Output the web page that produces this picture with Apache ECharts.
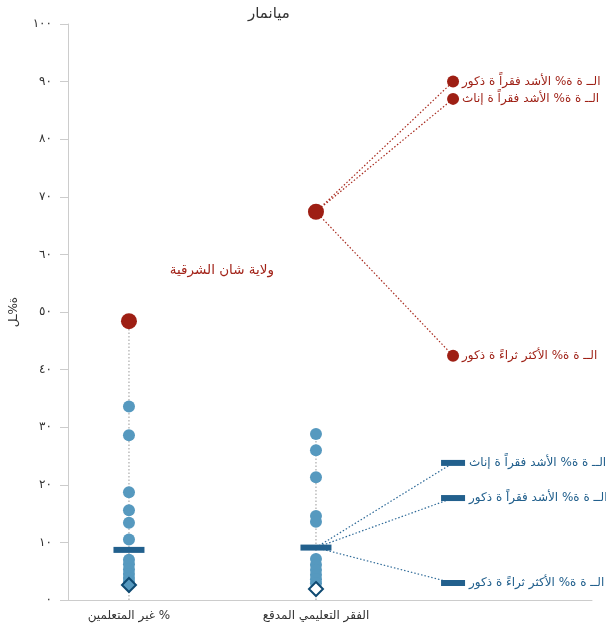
<!DOCTYPE html>
<html>
<head>
<meta charset="utf-8">
<script src="https://cdn.jsdelivr.net/npm/echarts@6/dist/echarts.min.js"></script>
<style>
  html, body { margin: 0; padding: 0; background: #fff; }
  #chart { width: 606px; height: 629px; }
</style>
</head>
<body>
<div id="chart" dir="rtl"></div>
<script>
// categories and y tick labels
const categories = ['% غير المتعلمين', 'الفقر التعليمي المدقع'];
const yTickLabels = ['٠', '١٠', '٢٠', '٣٠', '٤٠', '٥٠', '٦٠', '٧٠', '٨٠', '٩٠', '١٠٠'];
const chartTitle = 'ميانمار';
const yName = 'ة%ـل';
const regionName = 'ولاية شان الشرقية';

// regional values per indicator (light blue dots)
const regionsIlliterate = [33.6, 28.6, 18.7, 15.6, 13.4, 10.5, 7.0, 6.2, 5.3, 4.5, 3.8, 3.2];
const regionsPoverty = [28.8, 26.0, 21.3, 14.6, 13.6, 7.1, 6.1, 5.2, 4.4, 3.6, 2.9];
// national average (bar) and lowest value (diamond)
const national = [8.7, 9.1];
const lowest = [2.6, 1.9];
// highlighted region (red)
const highlighted = [48.4, 67.4];
// breakdown of the highlighted region and of the country, shown on the right
const redBreakLabels = ['الــ ة ة% الأشد فقراً ة ذكور', 'الــ ة ة% الأشد فقراً ة إناث', 'الــ ة ة% الأكثر ثراءً ة ذكور'];
const redBreakValues = [90.0, 87.0, 42.4];
const blueBreakLabels = ['الــ ة ة% الأشد فقراً ة إناث', 'الــ ة ة% الأشد فقراً ة ذكور', 'الــ ة ة% الأكثر ثراءً ة ذكور'];
const blueBreakValues = [23.8, 17.7, 2.95];

const RED = '#9e1f14';
const BLUE = '#5699bf';
const DARK = '#22608d';
const colX = [1, 2];
const annX = 2.733;

const chart = echarts.init(document.getElementById('chart'));

const dots = [];
regionsIlliterate.forEach(v => dots.push([colX[0], v]));
regionsPoverty.forEach(v => dots.push([colX[1], v]));

const stems = [[colX[0], 0], [colX[0], highlighted[0]], '-', [colX[1], 0], [colX[1], Math.max(...regionsPoverty)]];
const redLinks = [];
redBreakValues.forEach(v => { redLinks.push([colX[1], highlighted[1]], [annX, v], '-'); });
const blueLinks = [];
blueBreakValues.forEach(v => { blueLinks.push([colX[1], national[1]], [annX, v], '-'); });

const linkSeries = (data, color) => ({
  type: 'line', data: data, symbol: 'none', silent: true, connectNulls: false,
  lineStyle: { color: color, width: 1.2, type: [1.5, 2] }, z: 1
});

chart.setOption({
  animation: false,
  textStyle: { fontFamily: 'DejaVu Sans' },
  title: {
    text: chartTitle, left: 243, top: 2,
    textStyle: { fontSize: 15, fontWeight: 'normal', color: '#333' }
  },
  grid: { left: 68, right: 14, top: 24, bottom: 29, outerBoundsMode: 'none', containLabel: false },
  xAxis: {
    type: 'value', min: 0.674, max: 3.476,
    splitLine: { show: false },
    axisLine: { lineStyle: { color: '#ccc' } },
    axisTick: { show: false },
    axisLabel: {
      customValues: colX, color: '#333', fontSize: 12, margin: 10,
      formatter: v => categories[colX.indexOf(v)] || ''
    }
  },
  yAxis: {
    type: 'value', min: 0, max: 100, interval: 10,
    name: yName, nameLocation: 'middle', nameGap: 48, nameRotate: 90,
    nameTextStyle: { color: '#333', fontSize: 12 },
    splitLine: { show: false },
    axisLine: { show: true, lineStyle: { color: '#ccc' } },
    axisTick: { show: true, length: 8, lineStyle: { color: '#ccc' } },
    axisLabel: { color: '#333', fontSize: 12, margin: 16, formatter: v => yTickLabels[Math.round(v / 10)] }
  },
  series: [
    linkSeries(stems, '#aaa'),
    linkSeries(redLinks, '#a8291d'),
    linkSeries(blueLinks, '#2e6a98'),
    {
      type: 'scatter', data: dots, symbolSize: 12, z: 3,
      itemStyle: { color: BLUE, opacity: 1 }
    },
    {
      type: 'scatter', data: national.map((v, i) => [colX[i], v]), symbol: 'rect', symbolSize: [31, 6], z: 4,
      itemStyle: { color: DARK, opacity: 1 }
    },
    {
      type: 'scatter', data: lowest.map((v, i) => [colX[i], v]), symbol: 'diamond', symbolSize: 14, z: 5,
      itemStyle: { color: (p) => p.dataIndex === 0 ? BLUE : '#fff', borderColor: '#0f4a72', borderWidth: 2, opacity: 1 }
    },
    {
      type: 'scatter', data: highlighted.map((v, i) => [colX[i], v]), symbolSize: 16, z: 5,
      itemStyle: { color: RED, opacity: 1 }
    },
    {
      type: 'scatter', data: redBreakValues.map((v, i) => ({ value: [annX, v], name: redBreakLabels[i] })),
      symbolSize: 12, z: 5, itemStyle: { color: RED, opacity: 1 },
      label: { show: true, position: 'right', distance: 3, formatter: '{b}', color: RED, fontSize: 12 }
    },
    {
      type: 'scatter', data: blueBreakValues.map((v, i) => ({ value: [annX, v], name: blueBreakLabels[i] })),
      symbol: 'rect', symbolSize: [24, 6], z: 5, itemStyle: { color: DARK, opacity: 1 },
      label: { show: true, position: 'right', distance: 4, formatter: '{b}', color: DARK, fontSize: 12 }
    },
    {
      type: 'scatter', data: [{ value: [1.497, 57.2], name: regionName }], symbolSize: 0, silent: true,
      itemStyle: { opacity: 1 },
      label: { show: true, position: 'inside', formatter: '{b}', color: '#a3241a', fontSize: 13.5 }
    }
  ]
});
</script>
</body>
</html>
